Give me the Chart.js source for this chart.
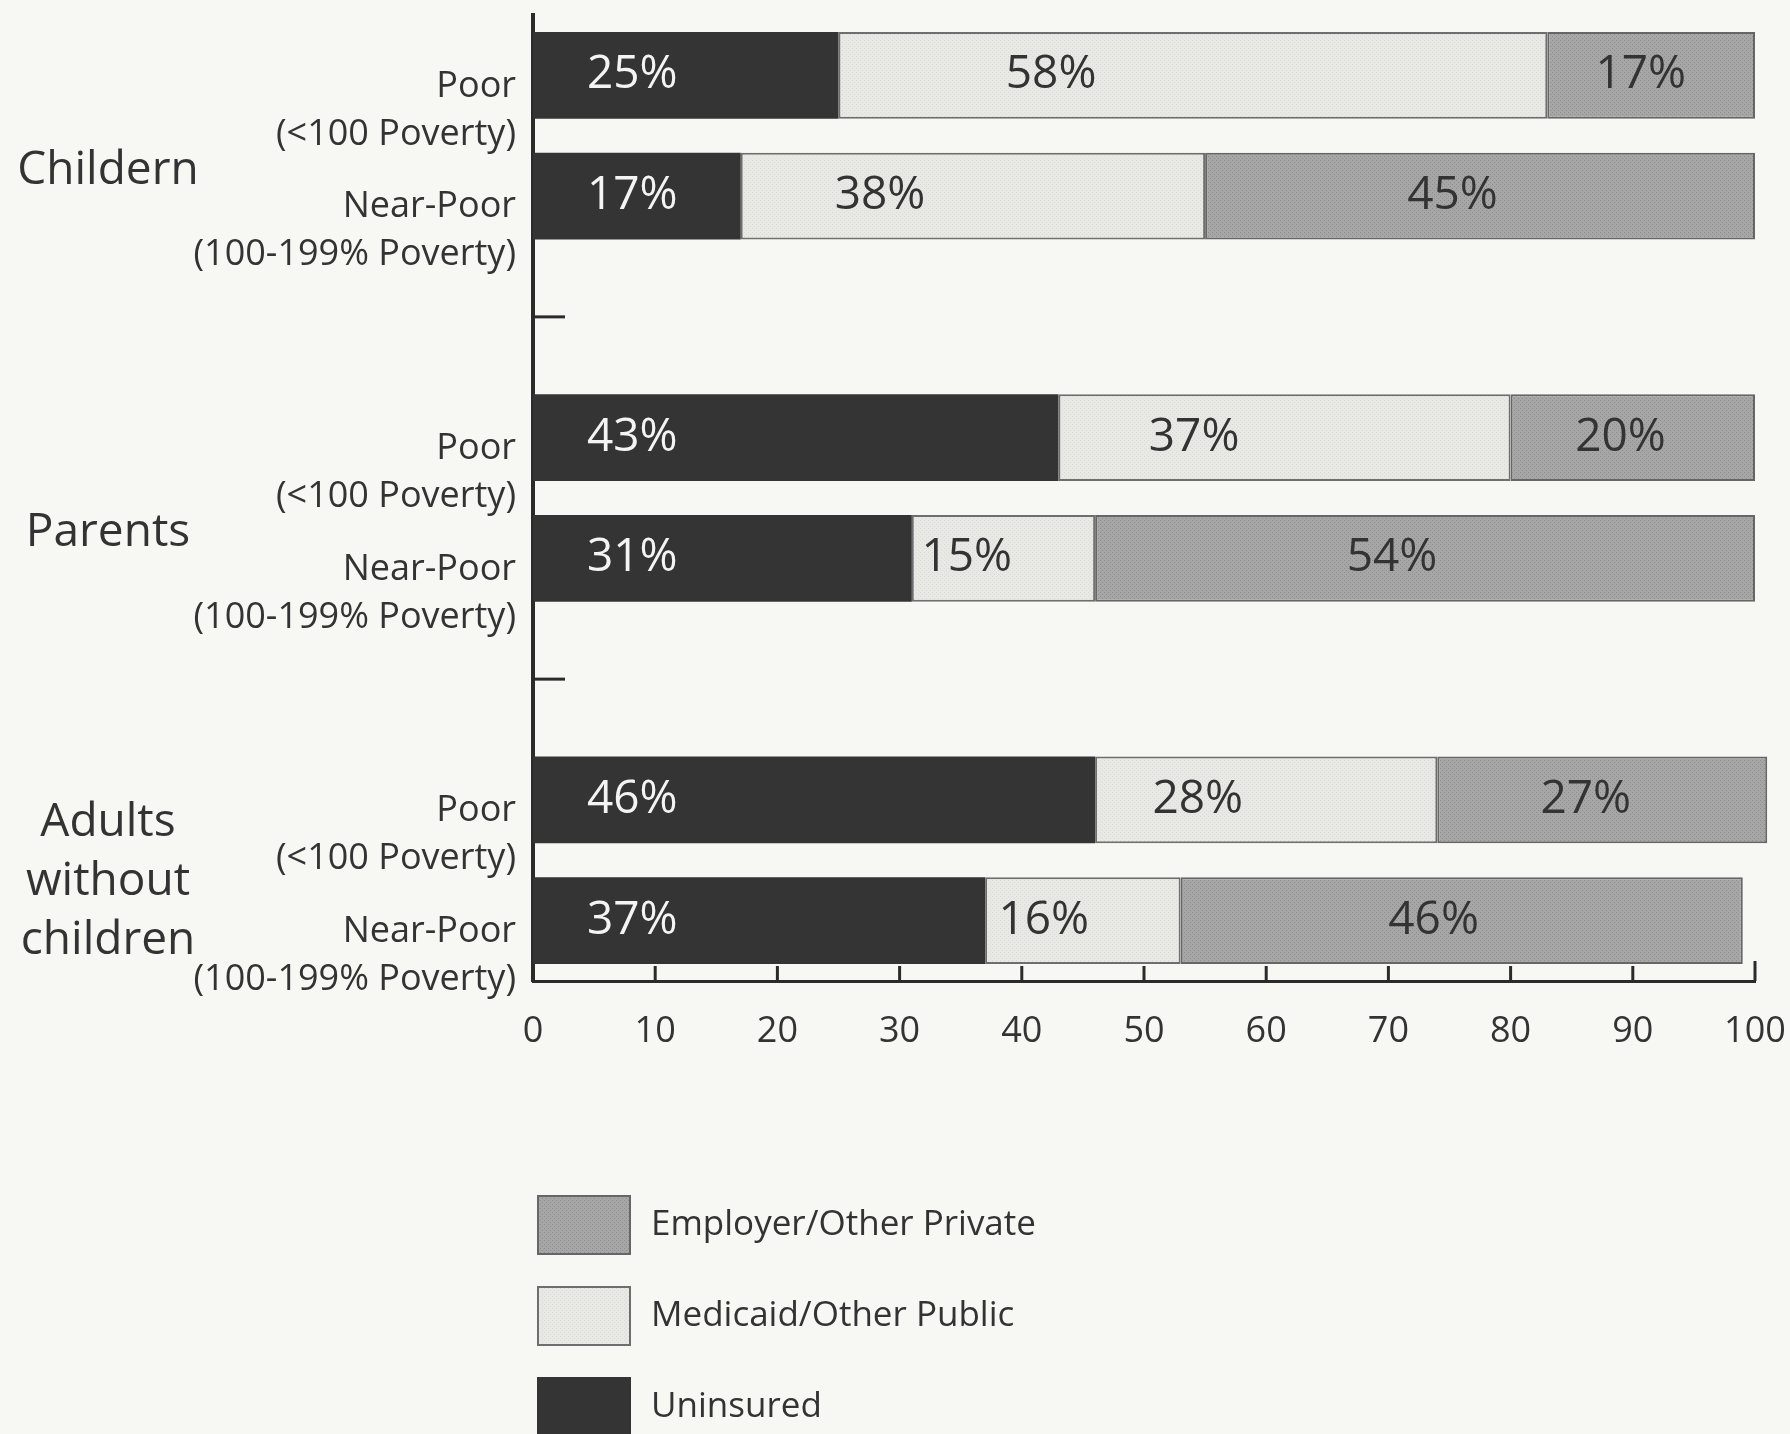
<!DOCTYPE html>
<html>
<head>
<meta charset="utf-8">
<title>Health coverage of low-income people</title>
<script src="https://cdn.jsdelivr.net/npm/chart.js@4.4.1/dist/chart.umd.min.js"></script>
<style>
  html, body { margin: 0; padding: 0; background: #f7f7f4; }
  canvas { display: block; }
</style>
</head>
<body>
<canvas id="chart" width="1790" height="1434"></canvas>
<script>
// rows of the chart, top to bottom; empty rows separate the groups
let rowLabels = [
  ["Poor", "(<100 Poverty)"],
  ["Near-Poor", "(100-199% Poverty)"],
  "",
  ["Poor", "(<100 Poverty)"],
  ["Near-Poor", "(100-199% Poverty)"],
  "",
  ["Poor", "(<100 Poverty)"],
  ["Near-Poor", "(100-199% Poverty)"]
];
let groupNames = [["Childern"], ["Parents"], ["Adults", "without", "children"]];
let groupRows = [[0, 1], [3, 4], [6, 7]];
let separatorRows = [2, 5];

let seriesNames = ["Uninsured", "Medicaid/Other Public", "Employer/Other Private"];
let uninsured = [25, 17, null, 43, 31, null, 46, 37];
let medicaid = [58, 38, null, 37, 15, null, 28, 16];
let employer = [17, 45, null, 20, 54, null, 27, 46];
let xTicks = [0, 10, 20, 30, 40, 50, 60, 70, 80, 90, 100];

const FONT = "'Open Sans', 'Noto Sans', sans-serif";
const INK = "#333333";

function dotPattern(base, dot) {
  let c = document.createElement("canvas");
  c.width = 4;
  c.height = 4;
  let g = c.getContext("2d");
  g.fillStyle = base;
  g.fillRect(0, 0, 4, 4);
  g.fillStyle = dot;
  g.fillRect(0, 0, 1, 1);
  g.fillRect(2, 2, 1, 1);
  return g.createPattern(c, "repeat");
}

// the axes should not reserve room for overhanging tick labels
function noLabelPadding(s) {
  s.paddingTop = 0;
  s.paddingBottom = 0;
  s.paddingLeft = 0;
  s.paddingRight = 0;
}

const extras = {
  id: "extras",
  afterDatasetsDraw(chart) {
    const ctx = chart.ctx;
    ctx.save();
    ctx.font = "46px " + FONT;
    ctx.textBaseline = "middle";
    chart.data.datasets.forEach((ds, i) => {
      chart.getDatasetMeta(i).data.forEach((bar, j) => {
        let v = ds.data[j];
        if (v == null) return;
        let left = Math.min(bar.base, bar.x);
        let w = Math.abs(bar.x - bar.base);
        ctx.fillStyle = ds.labelColor;
        if (ds.labelAnchor === "start") {
          ctx.textAlign = "left";
          ctx.fillText(v + "%", left + 54, bar.y);
        } else {
          ctx.textAlign = "center";
          ctx.fillText(v + "%", left + w * ds.labelAnchor, bar.y);
        }
      });
    });
    ctx.restore();
  },
  afterDraw(chart) {
    const ctx = chart.ctx;
    const area = chart.chartArea;
    const x = chart.scales.x;
    const y = chart.scales.y;
    ctx.save();
    ctx.strokeStyle = "#2b2b2b";

    // tick marks on the value axis, pointing up into the plot
    ctx.lineWidth = 3;
    xTicks.forEach((t) => {
      if (t === 0) return;
      let px = x.getPixelForValue(t);
      let len = t === 100 ? 20 : 15;
      ctx.beginPath();
      ctx.moveTo(px, area.bottom);
      ctx.lineTo(px, area.bottom - len);
      ctx.stroke();
    });

    // short marks between the groups
    separatorRows.forEach((r) => {
      let py = y.getPixelForValue(r);
      ctx.beginPath();
      ctx.moveTo(area.left, py);
      ctx.lineTo(area.left + 32, py);
      ctx.stroke();
    });

    // group names
    ctx.fillStyle = INK;
    ctx.font = "46px " + FONT;
    ctx.textAlign = "center";
    ctx.textBaseline = "middle";
    groupNames.forEach((lines, g) => {
      let rows = groupRows[g];
      let lh = 59;
      let mid = (y.getPixelForValue(rows[0]) + y.getPixelForValue(rows[rows.length - 1])) / 2
        + 35 - 6.5 * (lines.length - 1);
      lines.forEach((line, k) => {
        ctx.fillText(line, 108, mid + (k - (lines.length - 1) / 2) * lh);
      });
    });

    // legend, stacked vertically under the chart
    let sets = chart.data.datasets.slice().reverse();
    ctx.font = "35px " + FONT;
    ctx.textAlign = "left";
    sets.forEach((ds, k) => {
      let bx = area.left + 4;
      let by = 1195 + k * 91;
      ctx.fillStyle = ds.backgroundColor;
      ctx.fillRect(bx, by, 94, 60);
      if (ds.borderWidth) {
        ctx.lineWidth = 2;
        ctx.strokeStyle = ds.borderColor;
        ctx.strokeRect(bx + 1, by + 1, 92, 58);
      }
      ctx.fillStyle = INK;
      ctx.fillText(ds.label, bx + 114, by + 30);
    });
    ctx.restore();
  }
};

const chart = new Chart(document.getElementById("chart"), {
  type: "bar",
  data: {
    labels: rowLabels,
    datasets: [
      {
        label: seriesNames[0],
        data: uninsured,
        backgroundColor: "#343434",
        borderWidth: 0,
        labelColor: "#f4f4f4",
        labelAnchor: "start"
      },
      {
        label: seriesNames[1],
        data: medicaid,
        backgroundColor: dotPattern("#e8e8e5", "#dadad7"),
        borderColor: "#6e6e6e",
        borderWidth: 2,
        borderSkipped: false,
        labelColor: INK,
        labelAnchor: 0.3
      },
      {
        label: seriesNames[2],
        data: employer,
        backgroundColor: dotPattern("#a6a6a6", "#8e8e8e"),
        borderColor: "#666666",
        borderWidth: 2,
        borderSkipped: false,
        labelColor: INK,
        labelAnchor: 0.45
      }
    ]
  },
  options: {
    indexAxis: "y",
    responsive: false,
    animation: false,
    layout: {
      padding: { top: 15, right: 35, left: 0, bottom: 373 }
    },
    datasets: {
      // totals above 100 are allowed to run past the axis end
      bar: { barPercentage: 0.72, categoryPercentage: 1, clip: false }
    },
    plugins: {
      legend: { display: false },
      tooltip: { enabled: false }
    },
    scales: {
      x: {
        stacked: true,
        min: 0,
        max: 100,
        afterBuildTicks: (s) => {
          s.ticks = xTicks.map((v) => ({ value: v }));
        },
        afterFit: (s) => {
          s.height = 80;
          noLabelPadding(s);
        },
        grid: { display: false },
        border: { display: true, color: "#2b2b2b", width: 3 },
        ticks: {
          color: INK,
          padding: 21,
          font: { family: FONT, size: 36 }
        }
      },
      y: {
        stacked: true,
        afterFit: (s) => {
          s.width = 533;
          noLabelPadding(s);
        },
        grid: { display: false },
        border: { display: true, color: "#2b2b2b", width: 4 },
        ticks: {
          color: INK,
          padding: 9,
          labelOffset: 35,
          font: { family: FONT, size: 36, lineHeight: 1.33 }
        }
      }
    }
  },
  plugins: [extras]
});
</script>
</body>
</html>
